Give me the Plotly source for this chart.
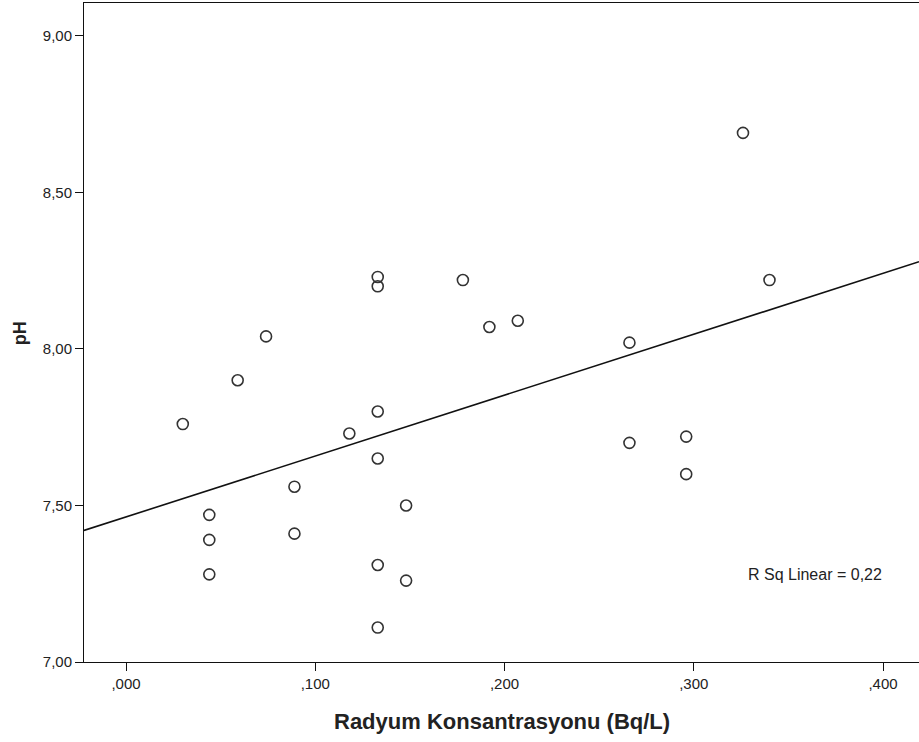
import numpy as np
import plotly.graph_objects as go

# Data
radium = [0.030, 0.059, 0.074, 0.044, 0.044, 0.044, 0.089, 0.089, 0.118,
          0.133, 0.133, 0.133, 0.133, 0.133, 0.133, 0.148, 0.148, 0.178,
          0.192, 0.207, 0.266, 0.266, 0.296, 0.296, 0.326, 0.340]
ph = [7.76, 7.90, 8.04, 7.47, 7.39, 7.28, 7.56, 7.41, 7.73,
      8.23, 8.20, 7.80, 7.65, 7.31, 7.11, 7.50, 7.26, 8.22,
      8.07, 8.09, 8.02, 7.70, 7.72, 7.60, 8.69, 8.22]

x_tickvals = [0.0, 0.1, 0.2, 0.3, 0.4]
x_ticktext = [",000", ",100", ",200", ",300", ",400"]
y_tickvals = [7.0, 7.5, 8.0, 8.5, 9.0]
y_ticktext = ["7,00", "7,50", "8,00", "8,50", "9,00"]

x_range = [-0.0222, 0.4190]
y_range = [7.0, 9.105]

r2_label = "R Sq Linear = 0,22"
x_title = "Radyum Konsantrasyonu (Bq/L)"
y_title = "pH"

# Linear fit
slope, intercept = np.polyfit(radium, ph, 1)
fit_x = np.array(x_range)
fit_y = intercept + slope * fit_x

FONT = "Liberation Sans, Arial, sans-serif"

fig = go.Figure()
fig.add_trace(go.Scatter(
    x=fit_x, y=fit_y, mode="lines",
    line=dict(color="#111111", width=1.6),
    showlegend=False, hoverinfo="skip"))
fig.add_trace(go.Scatter(
    x=radium, y=ph, mode="markers",
    marker=dict(symbol="circle-open", size=11,
                line=dict(color="#333333", width=1.6), color="#333333"),
    showlegend=False))

fig.update_layout(
    width=919, height=742,
    margin=dict(l=84, r=0, t=3, b=80),
    paper_bgcolor="white", plot_bgcolor="white",
    font=dict(family=FONT, size=15, color="#222222"),
    xaxis=dict(range=x_range, tickvals=x_tickvals, ticktext=x_ticktext,
               showgrid=False, zeroline=False, showline=True, mirror=True,
               linecolor="#111111", linewidth=1,
               ticks="outside", ticklen=8, tickcolor="#111111", tickwidth=1,
               tickfont=dict(family=FONT, size=15, color="#222222")),
    yaxis=dict(range=y_range, tickvals=y_tickvals, ticktext=y_ticktext,
               showgrid=False, zeroline=False, showline=True, mirror=False,
               linecolor="#111111", linewidth=1,
               ticks="outside", ticklen=8, tickcolor="#111111", tickwidth=1,
               tickfont=dict(family=FONT, size=15, color="#222222")),
    annotations=[
        dict(text=r2_label, x=0.364, y=7.281, xref="x", yref="y",
             showarrow=False, xanchor="center", yanchor="middle",
             font=dict(family=FONT, size=16, color="#222222")),
        dict(text="<b>" + x_title + "</b>", x=0.5, y=-0.091,
             xref="paper", yref="paper", showarrow=False,
             xanchor="center", yanchor="middle",
             font=dict(family=FONT, size=22, color="#222222")),
        dict(text="<b>" + y_title + "</b>", x=-0.0766, y=0.499,
             xref="paper", yref="paper", showarrow=False, textangle=-90,
             xanchor="center", yanchor="middle",
             font=dict(family=FONT, size=18, color="#222222")),
    ],
)

fig.write_html("out.html",
               config={"displayModeBar": False},
               post_script="document.body.style.margin='0';document.body.style.padding='0';")
